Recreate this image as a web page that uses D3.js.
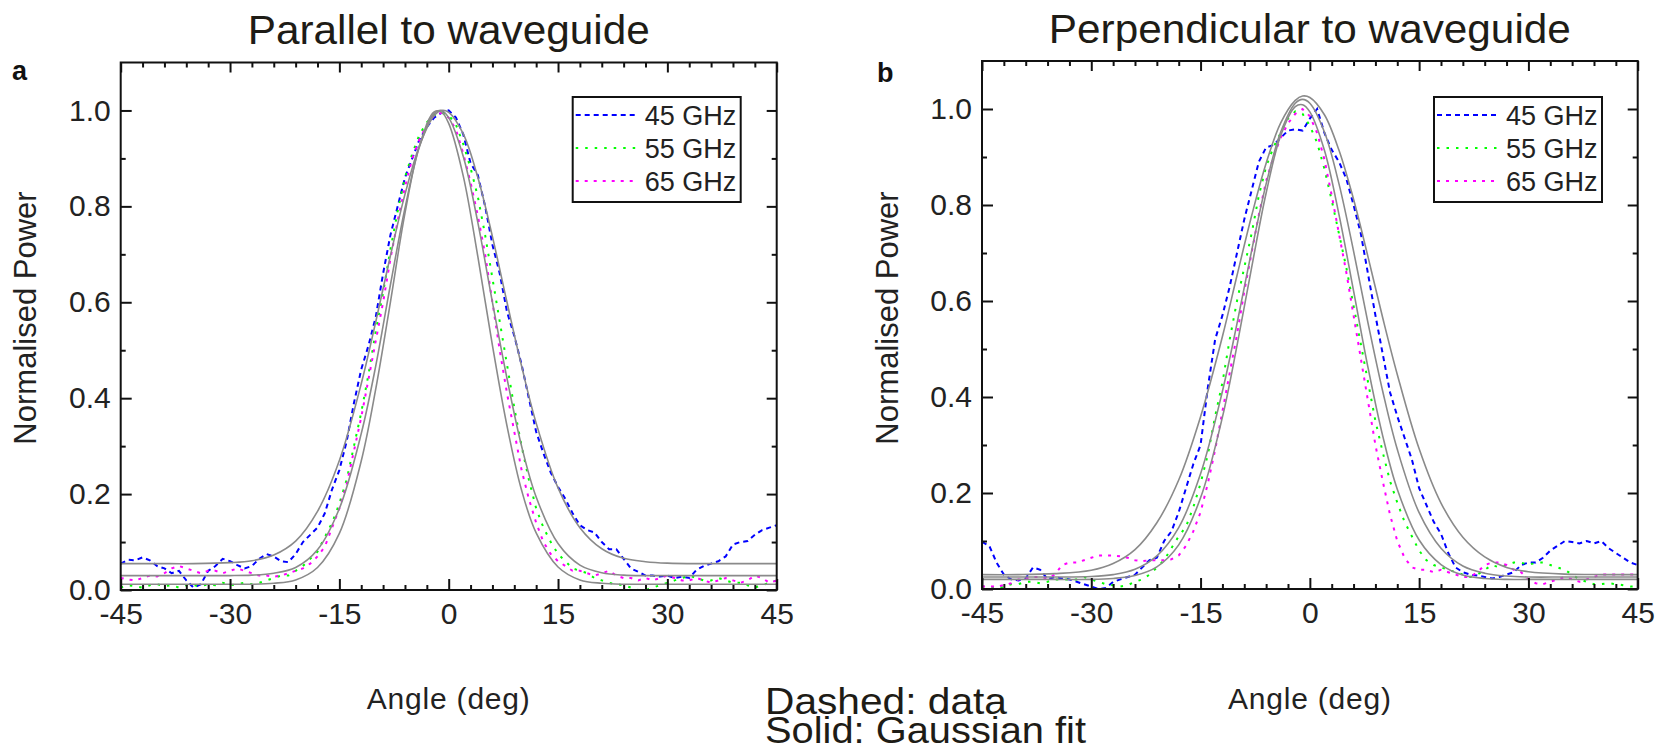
<!DOCTYPE html>
<html><head><meta charset="utf-8">
<script src="https://cdn.jsdelivr.net/npm/d3@7"></script>
<style>
body{margin:0;background:#fff}
svg{display:block}
text{font-family:"Liberation Sans",Arial,Helvetica,sans-serif}
</style>
</head><body>
<svg id="chart" width="1662" height="748"></svg>
<script>
// ---------- data ----------
const angles = [-45,-44,-43,-42,-41,-40,-39,-38,-37,-36,-35,-34,-33,-32,-31,-30,-29,-28,-27,-26,-25,-24,-23,-22,-21,-20,-19,-18,-17,-16,-15,-14,-13,-12,-11,-10,-9,-8,-7,-6,-5,-4,-3,-2,-1,0,1,2,3,4,5,6,7,8,9,10,11,12,13,14,15,16,17,18,19,20,21,22,23,24,25,26,27,28,29,30,31,32,33,34,35,36,37,38,39,40,41,42,43,44,45];
const fitAngles = [-45,-40,-35,-30,-27,-24,-21,-18,-15,-12,-10,-8,-6,-4,-2,-1,0,2,4,6,8,10,12,15,18,21,24,27,30,35,40,45];

const seriesNames = ["45 GHz","55 GHz","65 GHz"];
const seriesColors = ["#0000ff","#00ff00","#ff00ff"];
const seriesDash = ["5,4","2.5,7","3,6"];
const panelTitles = ["Parallel to waveguide","Perpendicular to waveguide"];
const panelLetters = ["a","b"];
const xTickValues = [-45,-30,-15,0,15,30,45];
const xMinorValues = [-42,-39,-36,-33,-27,-24,-21,-18,-12,-9,-6,-3,3,6,9,12,18,21,24,27,33,36,39,42];
const yTickValues = [0,0.2,0.4,0.6,0.8,1.0];
const yMinorValues = [0.1,0.3,0.5,0.7,0.9];
const xLabel = "Angle (deg)";
const yLabel = "Normalised Power";
const noteLines = ["Dashed: data","Solid: Gaussian fit"];

// Panel a: parallel to waveguide (measured)
const par45 = [0.055,0.063,0.062,0.068,0.062,0.05,0.045,0.035,0.04,0.02,
  0.005,0.012,0.04,0.05,0.065,0.06,0.052,0.045,0.05,0.065,
  0.075,0.07,0.06,0.058,0.075,0.1,0.115,0.13,0.16,0.21,
  0.25,0.31,0.39,0.46,0.51,0.57,0.66,0.74,0.8,0.86,
  0.9,0.94,0.965,0.985,0.995,
  1.0,
  0.985,0.95,0.89,0.865,0.8,0.72,0.66,0.58,0.53,0.47,
  0.4,0.33,0.285,0.245,0.215,0.19,0.16,0.135,0.125,0.12,
  0.1,0.085,0.085,0.065,0.045,0.038,0.03,0.03,0.028,0.03,
  0.025,0.028,0.025,0.042,0.05,0.055,0.06,0.07,0.095,0.1,
  0.102,0.115,0.125,0.13,0.135];
const par55 = [0.005,0.01,0.008,0.005,0.01,0.012,0.008,0.01,0.005,0.01,
  0.01,0.008,0.012,0.01,0.015,0.01,0.012,0.015,0.012,0.015,
  0.02,0.025,0.03,0.03,0.04,0.05,0.065,0.08,0.11,0.14,
  0.18,0.23,0.3,0.37,0.45,0.54,0.62,0.71,0.79,0.86,
  0.91,0.95,0.975,0.99,0.995,
  0.99,
  0.97,0.93,0.88,0.82,0.74,0.65,0.56,0.47,0.38,0.3,
  0.23,0.17,0.13,0.1,0.075,0.06,0.045,0.04,0.035,0.025,
  0.02,0.015,0.012,0.01,0.005,0.0,0.0,0.005,0.01,0.015,
  0.02,0.025,0.03,0.025,0.02,0.02,0.025,0.02,0.015,0.015,
  0.01,0.005,0.01,0.015,0.02];
const par65 = [0.025,0.022,0.02,0.025,0.03,0.028,0.035,0.045,0.05,0.045,
  0.04,0.035,0.04,0.04,0.035,0.04,0.045,0.04,0.035,0.03,
  0.03,0.028,0.03,0.035,0.04,0.045,0.055,0.07,0.09,0.13,
  0.17,0.22,0.29,0.36,0.44,0.52,0.6,0.69,0.77,0.84,
  0.9,0.94,0.97,0.99,0.995,
  0.985,
  0.96,0.91,0.85,0.78,0.7,0.6,0.5,0.41,0.33,0.25,
  0.19,0.14,0.1,0.075,0.06,0.05,0.04,0.04,0.035,0.03,
  0.035,0.04,0.03,0.025,0.025,0.02,0.025,0.02,0.025,0.03,
  0.025,0.02,0.02,0.025,0.02,0.015,0.02,0.025,0.02,0.015,
  0.02,0.03,0.025,0.015,0.02];
// Panel a: Gaussian fits (values read at fitAngles)
const par45Fit = [0.055,0.055,0.055,0.057,0.061,0.073,0.102,0.164,0.27,0.43,0.56,0.697,0.825,0.927,0.989,1.0,0.996,0.951,0.86,0.737,0.6,0.467,0.348,0.213,0.13,0.086,0.066,0.059,0.056,0.055,0.055,0.055];
const par55Fit = [0.03,0.03,0.03,0.03,0.031,0.035,0.047,0.084,0.17,0.326,0.468,0.636,0.796,0.925,0.994,1.0,0.985,0.904,0.766,0.6,0.441,0.3,0.194,0.097,0.052,0.036,0.031,0.03,0.03,0.03,0.03,0.03];
const par65Fit = [0.012,0.012,0.012,0.012,0.012,0.014,0.021,0.047,0.118,0.269,0.42,0.6,0.786,0.927,0.997,0.997,0.973,0.863,0.695,0.51,0.342,0.208,0.119,0.048,0.021,0.014,0.012,0.012,0.012,0.012,0.012,0.012];

// Panel b: perpendicular to waveguide (measured)
const perp45 = [0.098,0.09,0.055,0.03,0.02,0.018,0.022,0.045,0.04,0.02,
  0.025,0.022,0.02,0.015,0.01,0.005,0.0,0.002,0.015,0.02,
  0.025,0.03,0.045,0.06,0.065,0.1,0.12,0.16,0.21,0.26,
  0.3,0.42,0.52,0.57,0.63,0.7,0.77,0.83,0.89,0.92,
  0.925,0.94,0.955,0.958,0.955,
  0.98,
  1.0,0.95,0.915,0.89,0.855,0.8,0.74,0.655,0.57,0.49,
  0.41,0.36,0.315,0.27,0.21,0.175,0.14,0.115,0.075,0.045,
  0.035,0.03,0.028,0.025,0.022,0.025,0.03,0.035,0.05,0.055,
  0.055,0.065,0.08,0.09,0.1,0.098,0.095,0.1,0.095,0.1,
  0.085,0.075,0.065,0.055,0.05];
const perp55 = [0.005,0.005,0.0,0.005,0.01,0.01,0.015,0.015,0.012,0.015,
  0.02,0.02,0.02,0.02,0.025,0.02,0.015,0.01,0.008,0.005,
  0.008,0.015,0.02,0.03,0.045,0.06,0.085,0.11,0.13,0.17,
  0.22,0.28,0.36,0.43,0.52,0.6,0.67,0.74,0.82,0.88,
  0.92,0.95,0.98,0.995,0.99,
  0.965,
  0.93,0.875,0.81,0.74,0.67,0.59,0.51,0.43,0.35,0.285,
  0.225,0.18,0.14,0.11,0.08,0.06,0.05,0.045,0.04,0.035,
  0.03,0.025,0.03,0.04,0.05,0.045,0.05,0.055,0.055,0.05,
  0.055,0.055,0.05,0.045,0.04,0.03,0.02,0.015,0.01,0.01,
  0.012,0.01,0.008,0.005,0.005];
const perp65 = [0.005,0.005,0.005,0.008,0.012,0.02,0.022,0.025,0.025,0.022,
  0.03,0.05,0.055,0.055,0.06,0.065,0.07,0.07,0.07,0.068,
  0.065,0.06,0.058,0.06,0.06,0.06,0.062,0.07,0.09,0.12,
  0.16,0.22,0.29,0.37,0.45,0.53,0.62,0.7,0.78,0.85,
  0.9,0.94,0.97,0.99,1.0,
  0.985,
  0.95,0.895,0.82,0.74,0.66,0.57,0.48,0.39,0.3,0.225,
  0.155,0.1,0.065,0.045,0.04,0.04,0.035,0.04,0.035,0.03,
  0.025,0.025,0.035,0.05,0.055,0.055,0.05,0.04,0.035,0.02,
  0.012,0.01,0.015,0.02,0.025,0.02,0.015,0.02,0.025,0.03,
  0.03,0.03,0.03,0.03,0.03];
// Panel b: Gaussian fits (values read at fitAngles)
const perp45Fit = [0.03,0.03,0.032,0.039,0.053,0.082,0.138,0.227,0.359,0.526,0.653,0.777,0.887,0.971,1.018,1.027,1.024,0.988,0.914,0.812,0.691,0.565,0.447,0.292,0.179,0.108,0.067,0.045,0.036,0.031,0.03,0.03];
const perp55Fit = [0.025,0.025,0.025,0.026,0.03,0.041,0.069,0.128,0.24,0.412,0.553,0.704,0.844,0.952,1.012,1.02,1.012,0.952,0.844,0.704,0.553,0.412,0.291,0.159,0.085,0.048,0.033,0.027,0.025,0.025,0.025,0.025];
const perp65Fit = [0.02,0.02,0.02,0.02,0.022,0.028,0.046,0.092,0.19,0.358,0.507,0.669,0.825,0.945,1.005,1.009,0.994,0.914,0.78,0.621,0.46,0.319,0.208,0.102,0.051,0.029,0.022,0.02,0.02,0.02,0.02,0.02];

// ---------- layout ----------
const panels = [
  {title: panelTitles[0], letter: panelLetters[0], L: 120.7, R: 776.7, T: 62.5, B: 590,
   data: [par45, par55, par65], fits: [par45Fit, par55Fit, par65Fit],
   titleBase: 44, titleLen: 402, letterX: 12, letterY: 80, yLabX: 36},
  {title: panelTitles[1], letter: panelLetters[1], L: 982, R: 1637.7, T: 61, B: 589,
   data: [perp45, perp55, perp65], fits: [perp45Fit, perp55Fit, perp65Fit],
   titleBase: 43, titleLen: 522, letterX: 877, letterY: 82, yLabX: 898}
];

const svg = d3.select("#chart");
const ink = "#222";

panels.forEach((p, pi) => {
  const x = d3.scaleLinear().domain([-45, 45]).range([p.L, p.R]);
  const y = d3.scaleLinear().domain([0, 1.1]).range([p.B, p.T]);
  const g = svg.append("g");

  const clipId = "clip" + pi;
  svg.append("clipPath").attr("id", clipId).append("rect")
    .attr("x", p.L).attr("y", p.T).attr("width", p.R - p.L).attr("height", p.B - p.T);

  // data lines
  const plot = g.append("g").attr("clip-path", `url(#${clipId})`);
  const dataLine = d3.line().x((d, i) => x(angles[i])).y(d => y(d));
  p.data.forEach((arr, si) => {
    plot.append("path").datum(arr)
      .attr("d", dataLine)
      .attr("fill", "none")
      .attr("stroke", seriesColors[si])
      .attr("stroke-width", 2)
      .attr("stroke-dasharray", seriesDash[si]);
  });
  const fitLine = d3.line().x((d, i) => x(fitAngles[i])).y(d => y(d)).curve(d3.curveCatmullRom.alpha(0.5));
  p.fits.forEach(arr => {
    plot.append("path").datum(arr)
      .attr("d", fitLine)
      .attr("fill", "none")
      .attr("stroke", "#8a8a8a")
      .attr("stroke-width", 1.6);
  });

  // axes
  const styleAxis = sel => {
    sel.select(".domain").remove();
    sel.selectAll(".tick line").attr("stroke", "#111").attr("stroke-width", 2);
    sel.selectAll(".tick text").attr("fill", ink).style("font-size", "30px")
      .style("font-family", '"Liberation Sans", Arial, sans-serif');
  };
  g.append("g").attr("transform", `translate(0,${p.B})`)
    .call(d3.axisBottom(x).tickValues(xTickValues).tickSizeInner(-11).tickSizeOuter(0)
      .tickPadding(13).tickFormat(d => String(d)))
    .call(styleAxis);
  g.append("g").attr("transform", `translate(0,${p.B})`)
    .call(d3.axisBottom(x).tickValues(xMinorValues).tickSizeInner(-5).tickSizeOuter(0).tickFormat(""))
    .call(styleAxis);
  g.append("g").attr("transform", `translate(0,${p.T})`)
    .call(d3.axisTop(x).tickValues(xTickValues).tickSizeInner(-10).tickSizeOuter(0).tickFormat(""))
    .call(styleAxis);
  g.append("g").attr("transform", `translate(0,${p.T})`)
    .call(d3.axisTop(x).tickValues(xMinorValues).tickSizeInner(-5).tickSizeOuter(0).tickFormat(""))
    .call(styleAxis);
  g.append("g").attr("transform", `translate(${p.L},0)`)
    .call(d3.axisLeft(y).tickValues(yTickValues).tickSizeInner(-11).tickSizeOuter(0)
      .tickPadding(10).tickFormat(d3.format(".1f")))
    .call(styleAxis);
  g.append("g").attr("transform", `translate(${p.L},0)`)
    .call(d3.axisLeft(y).tickValues(yMinorValues).tickSizeInner(-5).tickSizeOuter(0).tickFormat(""))
    .call(styleAxis);
  g.append("g").attr("transform", `translate(${p.R},0)`)
    .call(d3.axisRight(y).tickValues(yTickValues).tickSizeInner(-10).tickSizeOuter(0).tickFormat(""))
    .call(styleAxis);
  g.append("g").attr("transform", `translate(${p.R},0)`)
    .call(d3.axisRight(y).tickValues(yMinorValues).tickSizeInner(-5).tickSizeOuter(0).tickFormat(""))
    .call(styleAxis);

  // frame
  g.append("rect").attr("x", p.L).attr("y", p.T)
    .attr("width", p.R - p.L).attr("height", p.B - p.T)
    .attr("fill", "none").attr("stroke", "#111").attr("stroke-width", 2);

  // axis labels
  g.append("text").attr("x", x(0)).attr("y", 709)
    .attr("text-anchor", "middle").attr("fill", ink)
    .style("font-size", "30px").style("letter-spacing", "0.8px")
    .text(xLabel);
  g.append("text")
    .attr("transform", `translate(${p.yLabX},318) rotate(-90)`)
    .attr("text-anchor", "middle").attr("fill", ink)
    .style("font-size", "31px")
    .text(yLabel);

  // title
  g.append("text").attr("x", x(0)).attr("y", p.titleBase)
    .attr("text-anchor", "middle").attr("fill", "#1e1c16")
    .attr("textLength", p.titleLen).attr("lengthAdjust", "spacingAndGlyphs")
    .style("font-size", "40px")
    .text(p.title);

  // panel letter
  g.append("text").attr("x", p.letterX).attr("y", p.letterY)
    .attr("fill", "#111").style("font-size", "27px").style("font-weight", "bold")
    .text(p.letter);

  // legend
  const lx = p.L + 452, ly = 97;
  const lg = g.append("g");
  lg.append("rect").attr("x", lx).attr("y", ly).attr("width", 168).attr("height", 105)
    .attr("fill", "#fff").attr("stroke", "#111").attr("stroke-width", 2);
  seriesNames.forEach((name, si) => {
    const ry = 115 + si * 33;
    lg.append("line").attr("x1", lx + 3).attr("x2", lx + 64).attr("y1", ry).attr("y2", ry)
      .attr("stroke", seriesColors[si]).attr("stroke-width", 2)
      .attr("stroke-dasharray", seriesDash[si]);
    lg.append("text").attr("x", lx + 72).attr("y", ry + 10)
      .attr("fill", ink).style("font-size", "27px").text(name);
  });
});

// note text
const note = svg.append("g");
note.append("text").attr("x", 765).attr("y", 714).attr("fill", "#1e1c16")
  .attr("textLength", 242).attr("lengthAdjust", "spacingAndGlyphs")
  .style("font-size", "36px").text(noteLines[0]);
note.append("text").attr("x", 765).attr("y", 743).attr("fill", "#1e1c16")
  .attr("textLength", 321).attr("lengthAdjust", "spacingAndGlyphs")
  .style("font-size", "36px").text(noteLines[1]);
</script>
</body></html>
